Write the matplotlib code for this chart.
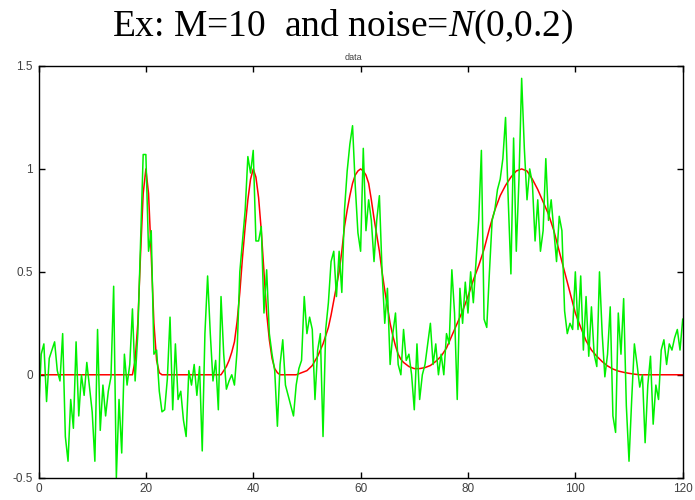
import numpy as np
import matplotlib
matplotlib.use('Agg')
import matplotlib.pyplot as plt

plt.rcParams['mathtext.fontset'] = 'custom'
plt.rcParams['mathtext.rm'] = 'Liberation Serif'
plt.rcParams['mathtext.it'] = 'Liberation Serif:italic'

# sample positions of the noisy data (step 0.5)
t = np.arange(0, 120.5, 0.5)

# noisy observations, ten units per row
noisy = [
    -0.2, 0.1, 0.15, -0.13, 0.08, 0.12, 0.16, 0.02, -0.03, 0.2,
    -0.3, -0.42, -0.12, -0.26, 0.16, -0.2, 0.0, -0.1, 0.06, -0.06,
    -0.18, -0.42, 0.22, -0.27, -0.05, -0.2, -0.08, -0.01, 0.43, -0.5,
    -0.12, -0.38, 0.1, -0.05, 0.05, 0.32, -0.03, 0.2, 0.64, 1.07,
    1.07, 0.6, 0.7, 0.1, 0.12, -0.08, -0.18, -0.17, -0.02, 0.28,
    -0.17, 0.15, -0.12, -0.08, -0.22, -0.3, 0.02, -0.05, 0.05, -0.1,
    0.04, -0.37, 0.2, 0.48, 0.2, -0.03, 0.07, -0.17, 0.38, 0.1,
    -0.07, -0.03, 0.0, -0.05, 0.12, 0.5, 0.65, 0.8, 1.06, 0.98,
    1.09, 0.65, 0.65, 0.72, 0.3, 0.51, 0.2, 0.1, 0.02, -0.25,
    0.05, 0.17, -0.05, -0.1, -0.15, -0.2, -0.05, 0.03, 0.07, 0.38,
    0.2, 0.28, 0.22, -0.12, 0.12, 0.2, -0.3, 0.22, 0.35, 0.55,
    0.6, 0.38, 0.6, 0.4, 0.8, 0.99, 1.12, 1.21, 0.92, 0.69,
    0.6, 1.1, 0.7, 0.85, 0.75, 0.55, 0.75, 0.87, 0.5, 0.25,
    0.42, 0.05, 0.2, 0.3, 0.05, 0.0, 0.22, 0.07, 0.1, 0.0,
    -0.17, 0.15, -0.12, 0.0, 0.05, 0.15, 0.25, 0.05, 0.15, 0.0,
    0.1, 0.0, 0.2, 0.15, 0.51, 0.3, -0.12, 0.42, 0.25, 0.45,
    0.3, 0.5, 0.35, 0.55, 0.75, 1.09, 0.27, 0.23, 0.5, 0.75,
    0.8, 0.9, 0.95, 1.05, 1.25, 0.85, 0.49, 1.15, 0.6, 0.95,
    1.44, 1.1, 0.85, 1.0, 0.93, 0.65, 0.85, 0.6, 0.7, 1.05,
    0.75, 0.85, 0.7, 0.55, 0.77, 0.7, 0.31, 0.2, 0.25, 0.22,
    0.5, 0.22, 0.48, 0.12, 0.38, 0.09, 0.33, 0.1, 0.04, 0.5,
    0.2, -0.01, 0.1, 0.33, -0.2, -0.28, 0.3, 0.1, 0.37, -0.15,
    -0.42, -0.12, 0.15, 0.05, -0.06, 0.0, -0.33, -0.05, 0.09, -0.24,
    -0.05, -0.12, 0.12, 0.17, 0.05, 0.15, 0.12, 0.18, 0.22, 0.12,
    0.27,
]

# underlying clean signal: four bumps at 20, 40, 60 and 90
clean_x = [0, 17.5, 18, 18.5, 19, 19.5, 20, 20.5, 21, 21.5, 22, 22.5, 23,
           33.5, 34, 34.5, 35, 35.5, 36, 36.5, 37, 37.5, 38, 38.5, 39, 39.5,
           40, 40.5, 41, 41.5, 42, 42.5, 43, 43.5, 44, 44.5, 45, 48,
           49, 50, 51, 52, 53, 54, 54.5, 55, 55.5, 56, 56.5, 57, 57.5, 58,
           58.5, 59, 59.5, 60, 60.5, 61, 61.5, 62, 62.5, 63, 63.5, 64, 64.5,
           65, 65.5, 66, 66.5, 67, 67.5, 68, 69, 70, 71, 72, 73, 74, 75,
           76, 77, 78, 79, 80, 81, 82, 83, 84, 85, 86, 87, 88, 89, 90,
           91, 92, 93, 94, 95, 96, 97, 98, 99, 100, 101, 102, 103, 104,
           105, 106, 107, 108, 109, 110, 111, 112, 120]
clean_y = [0, 0, 0.07, 0.25, 0.58, 0.88, 1.0, 0.88, 0.58, 0.25, 0.07, 0.01, 0,
           0, 0.0, 0.02, 0.04, 0.07, 0.11, 0.16, 0.26, 0.4, 0.57, 0.72, 0.85, 0.95,
           1.0, 0.96, 0.86, 0.7, 0.5, 0.3, 0.17, 0.08, 0.03, 0.01, 0, 0,
           0.01, 0.02, 0.045, 0.09, 0.15, 0.23, 0.29, 0.36, 0.43, 0.5, 0.6, 0.72, 0.8, 0.87,
           0.93, 0.97, 0.99, 1.0, 0.99, 0.97, 0.93, 0.85, 0.76, 0.68, 0.6, 0.5, 0.41,
           0.33, 0.25, 0.19, 0.14, 0.1, 0.075, 0.06, 0.04, 0.03, 0.03, 0.035, 0.045, 0.065, 0.09,
           0.13, 0.19, 0.25, 0.31, 0.38, 0.46, 0.53, 0.61, 0.71, 0.8, 0.87, 0.92, 0.96, 0.99, 1.0,
           0.99, 0.95, 0.9, 0.84, 0.78, 0.7, 0.6, 0.5, 0.4, 0.3, 0.23, 0.165, 0.12, 0.09,
           0.064, 0.043, 0.028, 0.018, 0.012, 0.007, 0.003, 0, 0]

xticks = [0, 20, 40, 60, 80, 100, 120]
yticks = [-0.5, 0, 0.5, 1, 1.5]
ytick_labels = ['-0.5', '0', '0.5', '1', '1.5']

fig = plt.figure(figsize=(6.95, 5), dpi=100)
ax = fig.add_axes([0.0554, 0.0446, 0.9269, 0.8234])

ax.plot(clean_x, clean_y, color='#ff0000', lw=1.1)
ax.plot(t, noisy, color='#00f000', lw=1.1)

ax.set_xlim(0, 120)
ax.set_ylim(-0.5, 1.5)
ax.set_xticks(xticks)
ax.set_yticks(yticks)
ax.set_yticklabels(ytick_labels)
ax.tick_params(direction='in', top=True, right=True, length=4, width=1,
               labelsize=8.5, labelcolor='#404040', pad=4)
for lab in ax.get_xticklabels() + ax.get_yticklabels():
    lab.set_family('Liberation Sans')
for sp in ax.spines.values():
    sp.set_linewidth(1)

fig.text(353 / 695, 1 - 57 / 500, 'data', ha='center', va='center',
         fontsize=6.5, color='#404040', family='Liberation Sans')
fig.text(343 / 695, 1 - 27 / 500, r'Ex: M=10  and noise=$\mathit{N}$(0,0.2)',
         ha='center', va='center', fontsize=27, family='Liberation Serif')

fig.savefig('out.png', dpi=100)
